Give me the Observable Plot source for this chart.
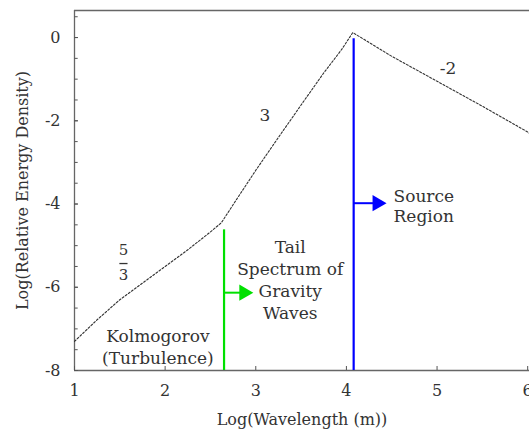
<!DOCTYPE html>
<html>
<head>
<meta charset="utf-8">
<script src="https://cdn.jsdelivr.net/npm/d3@7"></script>
<script src="https://cdn.jsdelivr.net/npm/@observablehq/plot@0.6"></script>
<style>
  body { margin: 0; background: #fff; }
  #chart svg { display: block; }
</style>
</head>
<body>
<div id="chart"></div>
<script>
// Spectrum curve (log wavelength vs log relative energy density)
const curveX = [1.0, 1.25, 1.5, 1.75, 2.0, 2.25, 2.5, 2.62, 2.8, 3.0, 3.25, 3.5, 3.75, 3.95, 4.07, 4.5, 5.0, 5.5, 6.0, 6.05];
const curveY = [-7.3, -6.78, -6.3, -5.9, -5.5, -5.1, -4.67, -4.45, -3.85, -3.19, -2.4, -1.62, -0.85, -0.28, 0.12, -0.45, -1.05, -1.65, -2.27, -2.35];

// Boundary lines
const boundaryX = [2.65, 4.08];
const boundaryTop = [-4.62, -0.03];
const boundaryColor = ["#00e000", "#0000ff"];
const arrowY = [-6.13, -3.98];
const arrowEnd = [2.94, 4.41];

// Slope labels
const slopeText = ["3", "-2"];
const slopeX = [3.1, 5.12];
const slopeY = [-1.87, -0.75];

// Fraction label 5/3
const fracX = 1.54;
const fracNumY = -5.12;
const fracBarY = -5.43;
const fracDenY = -5.72;

// Region labels
const regionText = ["Kolmogorov\n(Turbulence)", "Tail\nSpectrum of\nGravity\nWaves"];
const regionX = [1.92, 3.38];
const regionY = [-7.4, -5.8];
const sourceText = ["Source\nRegion"];
const sourceX = [4.52];
const sourceY = [-4.04];

const xTicks = [1, 2, 3, 4, 5, 6];
const yTicks = [0, -2, -4, -6, -8];
const yMinor = d3.range(-8, 0.51, 0.5);
const xDomain = [1, 6.02];
const yDomain = [-8, 0.65];

const curve = curveX.map((x, i) => ({x, y: curveY[i]}));
const bounds = boundaryX.map((x, i) => ({x, top: boundaryTop[i], color: boundaryColor[i], ay: arrowY[i], ax2: arrowEnd[i]}));
const slopes = slopeText.map((t, i) => ({t, x: slopeX[i], y: slopeY[i]}));
const regions = regionText.map((t, i) => ({t, x: regionX[i], y: regionY[i]}));
const source = sourceText.map((t, i) => ({t, x: sourceX[i], y: sourceY[i]}));

const font = "DejaVu Serif, Liberation Serif, serif";
const textColor = "#333";

const chart = Plot.plot({
  width: 529,
  height: 432,
  marginLeft: 74,
  marginRight: 0,
  marginTop: 10,
  marginBottom: 62,
  style: {fontFamily: font, fontSize: "16px", color: textColor, background: "#fff"},
  x: {domain: xDomain},
  y: {domain: yDomain},
  marks: [
    // frame lines
    Plot.ruleX([xDomain[0]], {stroke: "#666", strokeWidth: 1.3}),
    Plot.ruleY([yDomain[0]], {stroke: "#666", strokeWidth: 1.3}),
    Plot.ruleY([yDomain[1]], {stroke: "#666", strokeWidth: 1.3}),
    // minor inward ticks on y axis
    Plot.link(yMinor, {x1: xDomain[0], x2: xDomain[0] + 0.035, y1: d => d, y2: d => d, stroke: "#555"}),
    Plot.axisX(xTicks, {tickSize: -4, tickPadding: 18, fontSize: 16, label: "Log(Wavelength (m))", labelAnchor: "center", labelOffset: 54, labelArrow: false, stroke: "#555"}),
    Plot.axisY(yTicks, {tickSize: -4, tickPadding: 18, fontSize: 16, tickFormat: d => String(d), label: "Log(Relative Energy Density)", labelAnchor: "center", labelOffset: 58, labelArrow: false, stroke: "#555"}),
    // spectrum curve (dotted)
    Plot.line(curve, {x: "x", y: "y", stroke: "#333", strokeWidth: 1.1, strokeDasharray: "2,1.8"}),
    // boundary lines
    Plot.ruleX(bounds, {x: "x", y1: yDomain[0], y2: "top", stroke: "color", strokeWidth: 2.2}),
    Plot.link(bounds, {x1: "x", x2: d => d.ax2 - 0.08, y1: "ay", y2: "ay", stroke: "color", strokeWidth: 2}),
    Plot.dot(bounds, {x: d => d.ax2 - 0.07, y: "ay", symbol: "triangle", rotate: 90, r: 6, fill: "color", stroke: "none"}),
    // slope labels
    Plot.text(slopes, {x: "x", y: "y", text: "t", fontSize: 17, fill: textColor}),
    Plot.text(["5"], {x: fracX, y: fracNumY, text: d => d, fontSize: 15, fill: textColor}),
    Plot.link([fracBarY], {x1: fracX - 0.045, x2: fracX + 0.045, y1: d => d, y2: d => d, stroke: textColor, strokeWidth: 1.3}),
    Plot.text(["3"], {x: fracX, y: fracDenY, text: d => d, fontSize: 15, fill: textColor}),
    // region labels
    Plot.text(regions, {x: "x", y: "y", text: "t", textAnchor: "middle", lineHeight: 1.3, fontSize: 17, fill: textColor}),
    Plot.text(source, {x: "x", y: "y", text: "t", textAnchor: "start", lineHeight: 1.2, fontSize: 17, fill: textColor})
  ]
});
document.getElementById("chart").append(chart);
</script>
</body>
</html>
